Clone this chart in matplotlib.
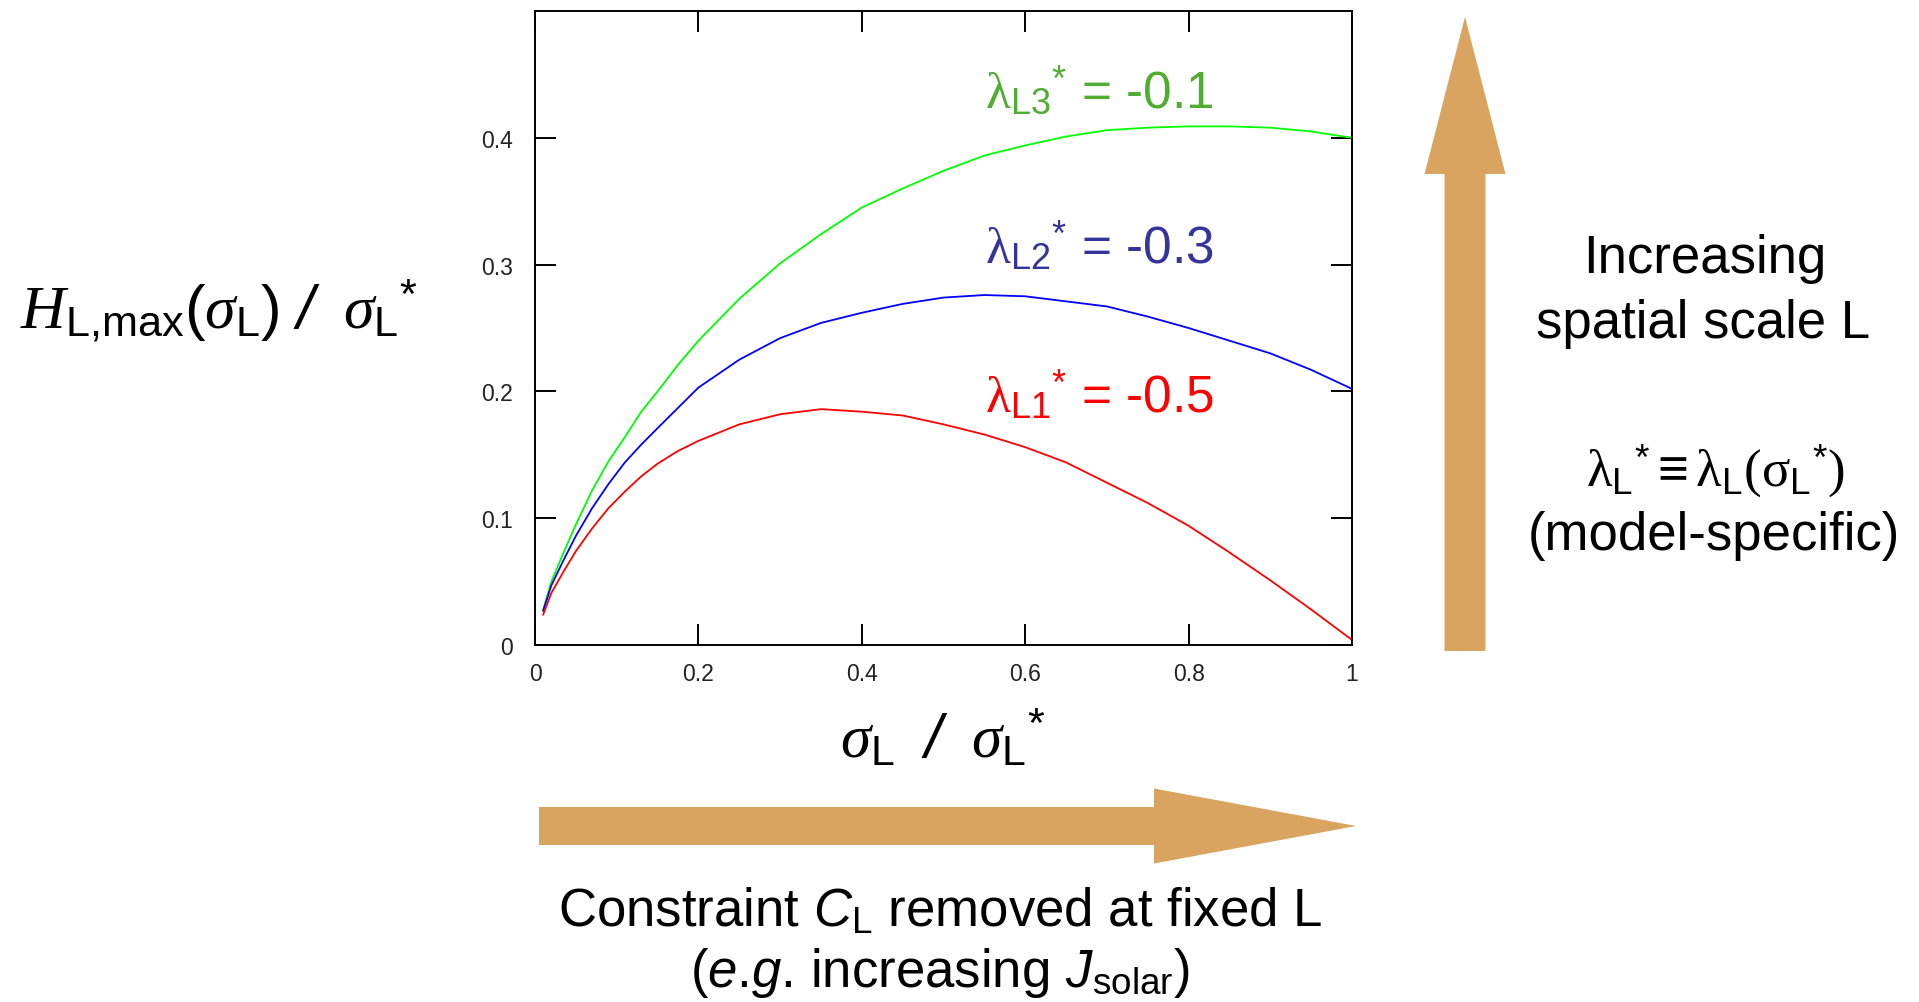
import matplotlib
matplotlib.use("Agg")
import matplotlib.pyplot as plt
from matplotlib.patches import FancyArrow

# ---------------- data ----------------
sigma_ratio = [0.01, 0.02, 0.035, 0.05, 0.07, 0.09, 0.11, 0.13, 0.15, 0.175, 0.20, 0.25,
               0.30, 0.35, 0.40, 0.45, 0.50, 0.55, 0.60, 0.65, 0.70, 0.75, 0.80, 0.85,
               0.90, 0.95, 1.00]
h_lambda3 = [0.028, 0.050, 0.073, 0.095, 0.122, 0.145, 0.164, 0.184, 0.200, 0.221, 0.240, 0.273,
             0.301, 0.324, 0.345, 0.360, 0.374, 0.386, 0.394, 0.401, 0.406, 0.408, 0.409, 0.409,
             0.408, 0.405, 0.400]
h_lambda2 = [0.027, 0.047, 0.067, 0.086, 0.108, 0.127, 0.144, 0.158, 0.171, 0.187, 0.203, 0.225,
             0.242, 0.254, 0.262, 0.269, 0.274, 0.276, 0.275, 0.271, 0.267, 0.259, 0.250, 0.240,
             0.230, 0.217, 0.202]
h_lambda1 = [0.024, 0.041, 0.058, 0.074, 0.092, 0.108, 0.121, 0.133, 0.143, 0.153, 0.161, 0.174,
             0.182, 0.186, 0.184, 0.181, 0.174, 0.166, 0.156, 0.144, 0.128, 0.112, 0.094, 0.073,
             0.051, 0.028, 0.004]

x_ticks = [0, 0.2, 0.4, 0.6, 0.8, 1.0]
x_tick_labels = ["0", "0.2", "0.4", "0.6", "0.8", "1"]
y_ticks = [0, 0.1, 0.2, 0.3, 0.4]
y_tick_labels = ["0", "0.1", "0.2", "0.3", "0.4"]

series_labels = [r"$\mathsf{\lambda}_{\mathrm{L3}}{}^{*}$ = -0.1",
                 r"$\mathsf{\lambda}_{\mathrm{L2}}{}^{*}$ = -0.3",
                 r"$\mathsf{\lambda}_{\mathrm{L1}}{}^{*}$ = -0.5"]

# ---------------- style ----------------
plt.rcParams['font.family'] = ['Liberation Sans', 'DejaVu Sans']
plt.rcParams['mathtext.fontset'] = 'custom'
plt.rcParams['mathtext.rm'] = 'Liberation Sans'
plt.rcParams['mathtext.it'] = 'Liberation Serif:italic'
plt.rcParams['mathtext.sf'] = 'Liberation Serif'
plt.rcParams['mathtext.tt'] = 'Liberation Sans:italic'
plt.rcParams['mathtext.bf'] = 'Liberation Sans:bold'

W, H = 1919, 1003
fig = plt.figure(figsize=(W / 100, H / 100), dpi=100)
fig.patch.set_facecolor('white')

ax = fig.add_axes([535 / W, 1 - 646 / H, (1352 - 535) / W, (646 - 12) / H])
line_w = 1.3
ax.plot(sigma_ratio, h_lambda3, color='#00FF00', lw=line_w)
ax.plot(sigma_ratio, h_lambda2, color='#0000FF', lw=line_w)
ax.plot(sigma_ratio, h_lambda1, color='#FF0000', lw=line_w)

ax.set_xlim(0, 1)
ax.set_ylim(0, 0.5)
ax.set_xticks(x_ticks)
ax.set_xticklabels(x_tick_labels)
ax.set_yticks(y_ticks)
ax.set_yticklabels(y_tick_labels)
ax.tick_params(axis='both', direction='in', length=15, width=1.4, top=True, right=True,
               labelsize=16.5, colors='black', labelcolor='#222222')
ax.tick_params(axis='x', pad=12)
ax.tick_params(axis='y', pad=16)
for s in ax.spines.values():
    s.set_linewidth(1.4)

label_colors = ['#4FAE32', '#34349C', '#FF0000']
label_y = [0.424, 0.302, 0.184]
for txt, c, yy in zip(series_labels, label_colors, label_y):
    ax.text(0.551, yy, txt, color=c, fontsize=37, ha='left', va='baseline')

# ---------------- overlay (pixel coordinates) ----------------
ov = fig.add_axes([0, 0, 1, 1])
ov.set_xlim(0, W)
ov.set_ylim(H, 0)
ov.axis('off')

arrow_color = '#D8A460'
ov.add_patch(FancyArrow(1465, 652, 0, 18 - 652, width=41, head_width=81, head_length=157,
                        length_includes_head=True, color=arrow_color, lw=0))
ov.add_patch(FancyArrow(539, 827, 1356 - 539, 0, width=38, head_width=75, head_length=202,
                        length_includes_head=True, color=arrow_color, lw=0))

ov.text(20, 328,
        r"$H_{\mathrm{L{,}max}}(\sigma_{\mathrm{L}})\ \mathtt{/}\ \ \sigma_{\mathrm{L}}{}^{*}$",
        fontsize=44.5, ha='left', va='baseline')
ov.text(840, 758, r"$\sigma_{\mathrm{L}}\ \ \mathtt{/}\ \ \sigma_{\mathrm{L}}{}^{*}$",
        fontsize=44, ha='left', va='baseline')

ov.text(940, 927, r"Constraint $\mathtt{C}_{\mathrm{L}}$ removed at fixed L",
        fontsize=38, ha='center', va='baseline')
ov.text(940, 987, r"($\mathtt{e}$.$\mathtt{g}$. increasing $\mathtt{J}_{\mathrm{solar}}$)",
        fontsize=38, ha='center', va='baseline')

ov.text(1705, 273, "Increasing", fontsize=38, ha='center', va='baseline')
ov.text(1703, 338, "spatial scale L", fontsize=38, ha='center', va='baseline')
ov.text(1715, 487,
        r"$\mathsf{\lambda}_{\mathrm{L}}{}^{*}\equiv\mathsf{\lambda}_{\mathrm{L}}\mathsf{(\sigma}_{\mathrm{L}}{}^{*}\mathsf{)}$",
        fontsize=38, ha='center', va='baseline')
ov.text(1714, 550, "(model-specific)", fontsize=38, ha='center', va='baseline')

fig.savefig("out.png", dpi=100, facecolor='white')
